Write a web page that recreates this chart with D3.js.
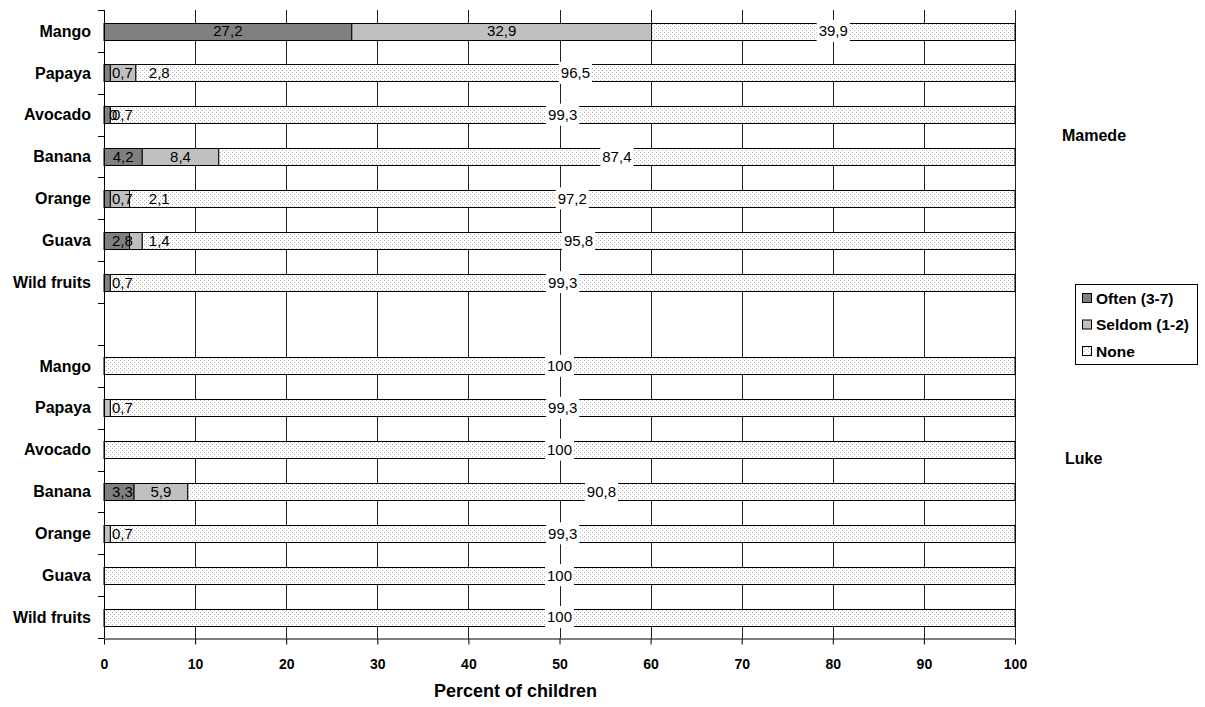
<!DOCTYPE html>
<html><head><meta charset="utf-8">
<script src="https://cdn.jsdelivr.net/npm/d3@7/dist/d3.min.js"></script>
<style>body{margin:0;background:#fff}svg{display:block;font-family:Arial,"Liberation Sans",sans-serif}</style>
</head><body><svg id="c" width="1205" height="707"></svg>
<script>
const fruits = ["Mango","Papaya","Avocado","Banana","Orange","Guava","Wild fruits"];
const groups = ["Mamede","Luke"];
const seriesNames = ["Often (3-7)","Seldom (1-2)","None"];
const mamedeOften  = [27.2, 0.7, 0.7, 4.2, 0.7, 2.8, 0.7];
const mamedeSeldom = [32.9, 2.8, 0,   8.4, 2.1, 1.4, null];
const mamedeNone   = [39.9, 96.5, 99.3, 87.4, 97.2, 95.8, 99.3];
const lukeOften    = [null, null, null, 3.3, null, null, null];
const lukeSeldom   = [null, 0.7, null, 5.9, 0.7, null, null];
const lukeNone     = [100, 99.3, 100, 90.8, 99.3, 100, 100];
const xTicks = [0,10,20,30,40,50,60,70,80,90,100];
const axisTitle = "Percent of children";
const colors = ["#808080","#c0c0c0","url(#dots)"];

const rows = [];
fruits.forEach((f,i)=>rows.push({key:"Mamede|"+f, label:f, vals:[mamedeOften[i],mamedeSeldom[i],mamedeNone[i]]}));
rows.push({key:"gap", label:"", vals:[]});
fruits.forEach((f,i)=>rows.push({key:"Luke|"+f, label:f, vals:[lukeOften[i],lukeSeldom[i],lukeNone[i]]}));

const svg = d3.select("#c");
const defs = svg.append("defs");
const pat = defs.append("pattern").attr("id","dots").attr("patternUnits","userSpaceOnUse").attr("width",4).attr("height",4);
pat.append("rect").attr("width",4).attr("height",4).attr("fill","#fff");
pat.append("rect").attr("x",0).attr("y",0).attr("width",1).attr("height",1).attr("fill","#b4b4b4");
pat.append("rect").attr("x",2).attr("y",2).attr("width",1).attr("height",1).attr("fill","#b4b4b4");

const x = d3.scaleLinear().domain([0,100]).range([104,1015]);
const y = d3.scaleBand().domain(rows.map(r=>r.key)).range([10,638]).paddingInner(0.6).paddingOuter(0.3);

// gridlines
svg.append("g").selectAll("line").data(xTicks.filter(t=>t>0)).join("line")
  .attr("x1",d=>Math.round(x(d))+0.5).attr("x2",d=>Math.round(x(d))+0.5)
  .attr("y1",y.range()[0]).attr("y2",y.range()[1])
  .attr("stroke","#222").attr("stroke-width",1);

// bars
const segs = [];
rows.forEach(r=>{
  let acc=0;
  r.vals.forEach((v,si)=>{
    if(v===null||v===undefined) return;
    segs.push({row:r, si, v, x0:acc, x1:acc+v});
    acc+=v;
  });
});
svg.append("g").selectAll("rect").data(segs.filter(s=>s.v>0)).join("rect")
  .attr("x",s=>x(s.x0)).attr("width",s=>x(s.x1)-x(s.x0))
  .attr("y",s=>Math.round(y(s.row.key))+0.5).attr("height",Math.round(y.bandwidth()))
  .attr("fill",s=>colors[s.si]).attr("stroke","#000").attr("stroke-width",1);

// value labels
const ctx = document.createElement("canvas").getContext("2d");
const labelFont = "15px Arial";
ctx.font = labelFont;
const fmt = v => String(v).replace(".",",");
const pad = 8;
const lab = [];
rows.forEach(r=>{
  let prevRight = x(0);
  segs.filter(s=>s.row===r).forEach(s=>{
    const t = fmt(s.v), w = ctx.measureText(t).width;
    const c = (x(s.x0)+x(s.x1))/2;
    let left = c - w/2 - pad;
    if(s.si===2){ lab.push({s,t,w,cx:c}); return; }
    if(s.v===0){ left=Math.max(left,x(0)); lab.push({s,t,w,cx:left+pad+w/2-3}); return; }
    left = Math.max(left, prevRight);
    prevRight = left + w + 2*pad;
    lab.push({s,t,w,cx:left+pad+w/2});
  });
});
const lg = svg.append("g");
lg.selectAll("rect").data(lab.filter(l=>l.s.si===2)).join("rect")
  .attr("x",l=>l.cx-l.w/2-2).attr("width",l=>l.w+4)
  .attr("y",l=>y(l.s.row.key)+y.bandwidth()/2-11).attr("height",22).attr("fill","#fff");
lg.selectAll("text").data(lab).join("text")
  .attr("x",l=>l.cx).attr("y",l=>y(l.s.row.key)+y.bandwidth()/2).attr("dy","0.36em")
  .attr("text-anchor","middle").style("font",labelFont).attr("fill","#000").text(l=>l.t);

// y axis
const yax = svg.append("g");
yax.append("line").attr("x1",104.5).attr("x2",104.5).attr("y1",y.range()[0]).attr("y2",y.range()[1]).attr("stroke","#000");
const bounds = rows.map(r=>y(r.key)-y.step()*y.paddingInner()/2).concat([y.range()[1]]);
yax.selectAll("line.t").data(bounds).join("line").attr("class","t")
  .attr("x1",98).attr("x2",104).attr("y1",d=>Math.round(d)+0.5).attr("y2",d=>Math.round(d)+0.5).attr("stroke","#000");
yax.selectAll("text").data(rows.filter(r=>r.label)).join("text")
  .attr("x",91).attr("y",r=>y(r.key)+y.bandwidth()/2).attr("dy","0.36em")
  .attr("text-anchor","end").style("font","bold 16px Arial").text(r=>r.label);

// x axis
const xa = svg.append("g").attr("transform","translate(0,638.5)")
  .call(d3.axisBottom(x).tickValues(xTicks).tickSize(6).tickSizeOuter(0).tickFormat(d3.format("d")));
xa.select(".domain").attr("stroke","#000");
xa.selectAll(".tick line").attr("stroke","#000");
xa.selectAll(".tick text").style("font","bold 14px Arial").attr("fill","#000").attr("dy","1.5em");

svg.append("text").attr("x",(x(0)+x(100))/2 - 44).attr("y",697).attr("text-anchor","middle")
  .style("font","bold 18px Arial").text(axisTitle);

// group titles
const yM = y("Mamede|Banana") - y.step()*y.paddingInner()/2;
const yL = y("Luke|Avocado") + y.bandwidth()/2 + 9;
svg.append("text").attr("x",1062).attr("y",yM).attr("dy","0.36em").style("font","bold 16px Arial").text(groups[0]);
svg.append("text").attr("x",1065).attr("y",yL).attr("dy","0.36em").style("font","bold 16px Arial").text(groups[1]);

// legend
const leg = svg.append("g");
leg.append("rect").attr("x",1075.5).attr("y",284.5).attr("width",122).attr("height",80).attr("fill","#fff").attr("stroke","#000");
const li = leg.selectAll("g").data(seriesNames).join("g").attr("transform",(d,i)=>`translate(0,${298+i*26.5})`);
li.append("rect").attr("x",1082.5).attr("y",-4.5).attr("width",9).attr("height",9).attr("fill",(d,i)=>colors[i]).attr("stroke","#000");
li.append("text").attr("x",1096).attr("y",0).attr("dy","0.36em").style("font","bold 15.5px Arial").text(d=>d);
</script></body></html>
